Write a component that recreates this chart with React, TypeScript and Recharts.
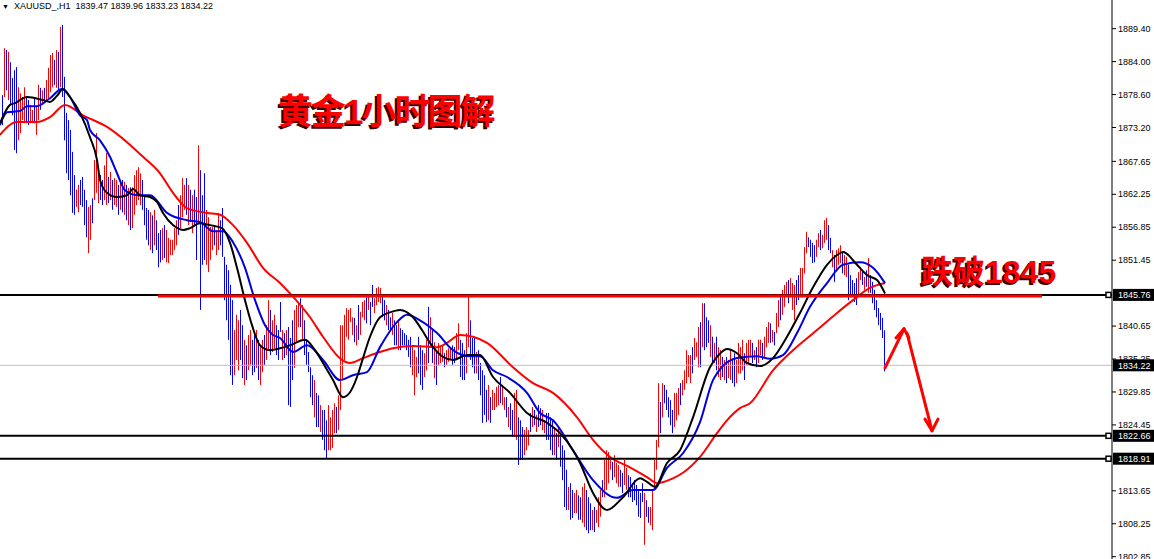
import React from 'react';
import { ComposedChart, Bar, Line, XAxis, YAxis, ReferenceLine } from 'recharts';

// XAUUSD H1 bars: [high, low, up(1)/down(0)]
const barsA = [
  [1878.5, 1873.6, 0], [1886.2, 1878.2, 1], [1885.9, 1879.3, 0], [1885.6, 1877.7, 1], [1883.9, 1876.9, 0],
  [1881.3, 1875.2, 0], [1882.6, 1869.5, 0], [1883.1, 1869.0, 0], [1879.8, 1871.1, 1], [1878.8, 1872.3, 1],
  [1878.2, 1874.4, 1], [1879.8, 1873.9, 1], [1878.2, 1873.9, 0], [1877.7, 1873.6, 0], [1876.9, 1873.9, 1],
  [1876.1, 1873.9, 1], [1878.0, 1873.9, 0], [1876.6, 1872.0, 1], [1880.2, 1874.4, 1], [1879.7, 1876.1, 0],
  [1879.3, 1876.9, 1], [1879.7, 1877.4, 0], [1881.0, 1877.7, 1], [1883.0, 1878.0, 1], [1885.1, 1879.0, 1],
  [1885.4, 1879.8, 1], [1884.3, 1880.2, 0], [1885.9, 1879.7, 1], [1885.6, 1879.3, 0], [1889.7, 1879.8, 1],
  [1890.0, 1878.2, 0], [1881.5, 1871.1, 0], [1875.6, 1865.7, 0], [1874.4, 1864.6, 0], [1872.8, 1862.1, 0],
  [1869.2, 1859.2, 0], [1865.4, 1858.9, 0], [1863.0, 1860.2, 1], [1863.8, 1859.3, 1], [1864.6, 1860.5, 0],
  [1865.1, 1860.2, 0], [1863.0, 1857.2, 0], [1861.3, 1855.2, 0], [1860.2, 1852.6, 1], [1860.5, 1854.8, 1],
  [1861.6, 1857.5, 0], [1867.9, 1861.3, 1], [1872.3, 1862.5, 1], [1866.7, 1860.8, 1], [1865.4, 1861.3, 0],
  [1864.6, 1860.5, 0], [1867.0, 1861.3, 1], [1869.0, 1860.5, 1], [1865.1, 1860.8, 0], [1865.9, 1861.3, 1],
  [1864.6, 1859.7, 0], [1864.9, 1860.5, 1], [1864.6, 1860.2, 1], [1863.8, 1858.9, 0], [1864.1, 1859.7, 1],
  [1864.6, 1859.3, 0], [1864.3, 1858.9, 1], [1863.8, 1858.0, 0], [1863.3, 1857.2, 1], [1863.4, 1856.4, 0],
  [1863.4, 1856.7, 1], [1865.4, 1858.9, 1], [1866.2, 1860.5, 1], [1866.7, 1861.3, 1], [1865.7, 1860.5, 1],
  [1864.6, 1859.7, 0], [1862.1, 1857.2, 0], [1860.0, 1854.8, 0], [1859.7, 1853.9, 0], [1859.3, 1853.1, 1],
  [1858.8, 1852.6, 0], [1859.7, 1853.9, 1], [1858.0, 1853.1, 0], [1855.9, 1850.3, 0], [1856.4, 1851.1, 0],
  [1856.7, 1851.5, 1], [1857.2, 1851.8, 0], [1856.4, 1851.1, 1], [1855.1, 1851.0, 1], [1854.8, 1852.3, 1],
  [1854.8, 1852.3, 1], [1856.7, 1853.1, 1], [1858.0, 1853.9, 1], [1860.5, 1855.6, 0], [1862.1, 1856.7, 1],
  [1864.9, 1858.5, 1], [1863.8, 1859.7, 1], [1864.9, 1858.9, 0], [1863.8, 1857.2, 1], [1863.0, 1857.7, 0],
  [1862.1, 1855.9, 1], [1863.0, 1857.2, 0], [1861.8, 1851.5, 0], [1870.3, 1857.5, 1], [1866.2, 1843.3, 0],
  [1862.1, 1850.7, 0], [1865.7, 1851.5, 0], [1859.7, 1850.7, 1], [1858.5, 1849.5, 1], [1856.9, 1851.5, 1],
  [1856.9, 1853.1, 1], [1857.2, 1853.9, 0], [1856.4, 1852.3, 1], [1859.2, 1853.1, 1], [1858.0, 1853.9, 0],
];

const barsB = [
  [1860.0, 1852.0, 0], [1852.0, 1844.9, 0], [1850.7, 1841.6, 0], [1849.8, 1838.4, 0], [1847.4, 1832.6, 0],
  [1844.9, 1831.0, 0], [1840.0, 1832.6, 1], [1842.5, 1835.1, 1], [1841.6, 1833.4, 1], [1843.3, 1835.1, 0],
  [1840.8, 1832.1, 0], [1838.4, 1831.0, 1], [1837.5, 1831.8, 0], [1839.2, 1833.4, 1], [1840.0, 1834.3, 1],
  [1838.4, 1832.6, 0], [1839.2, 1833.1, 0], [1840.0, 1833.8, 1], [1838.4, 1831.8, 0], [1837.5, 1831.0, 1],
  [1838.4, 1833.1, 1], [1839.2, 1834.3, 0], [1840.8, 1835.1, 1], [1844.9, 1836.7, 1], [1843.3, 1835.9, 0],
  [1841.6, 1836.4, 1], [1842.5, 1837.0, 1], [1840.8, 1835.9, 0], [1840.0, 1835.1, 0], [1844.6, 1839.7, 0],
  [1840.0, 1835.1, 1], [1839.5, 1835.4, 0], [1840.0, 1835.9, 1], [1840.5, 1827.7, 0], [1838.7, 1827.4, 0],
  [1841.6, 1831.8, 0], [1843.3, 1833.8, 1], [1844.1, 1837.9, 1], [1844.4, 1840.5, 1], [1845.2, 1840.5, 0],
  [1844.1, 1838.4, 1], [1841.6, 1835.9, 0], [1838.4, 1834.3, 0], [1836.4, 1833.1, 0], [1833.9, 1829.0, 0],
  [1832.6, 1827.7, 0], [1831.8, 1825.7, 1], [1829.7, 1824.1, 0], [1829.3, 1824.1, 0], [1827.7, 1823.3, 1],
  [1826.9, 1822.0, 0], [1826.9, 1820.3, 0], [1825.2, 1819.0, 0], [1827.7, 1820.3, 1], [1825.7, 1820.3, 1],
  [1826.9, 1820.7, 1], [1828.0, 1823.1, 1], [1827.4, 1823.1, 0], [1829.3, 1823.6, 1], [1840.8, 1826.9, 1],
  [1840.8, 1831.8, 1], [1842.5, 1835.1, 1], [1843.6, 1838.9, 1], [1843.3, 1838.4, 1], [1843.6, 1841.3, 1],
  [1842.1, 1839.2, 1], [1842.0, 1838.0, 0], [1840.8, 1837.5, 1], [1844.1, 1838.4, 0], [1843.0, 1839.2, 1],
  [1844.6, 1842.1, 1], [1844.9, 1841.6, 1], [1845.4, 1841.1, 0], [1845.7, 1843.3, 1], [1844.6, 1840.8, 0],
  [1847.4, 1843.8, 0], [1845.2, 1842.8, 1], [1846.9, 1844.1, 1], [1847.1, 1844.6, 1], [1846.9, 1844.4, 1],
  [1845.4, 1842.1, 0], [1844.9, 1841.6, 0], [1844.1, 1840.8, 1], [1843.3, 1840.0, 0], [1842.1, 1840.0, 0],
  [1842.8, 1839.2, 1], [1841.6, 1837.5, 0], [1840.8, 1837.5, 0], [1841.6, 1836.7, 1], [1840.3, 1836.7, 0],
  [1840.0, 1837.5, 0], [1839.5, 1837.5, 0], [1839.2, 1836.7, 0], [1838.4, 1835.6, 0], [1838.9, 1833.9, 0],
  [1837.5, 1832.6, 1], [1836.7, 1829.3, 1], [1835.6, 1832.3, 1], [1838.9, 1832.9, 0], [1837.5, 1831.0, 0],
  [1836.7, 1830.2, 0], [1836.2, 1832.3, 1], [1838.4, 1833.4, 1], [1843.8, 1834.6, 0], [1842.1, 1837.2, 1],
  [1840.0, 1834.6, 0], [1838.0, 1832.1, 1], [1836.4, 1831.0, 0], [1837.9, 1834.3, 1], [1837.2, 1834.6, 1],
];

const barsC = [
  [1837.5, 1834.8, 1], [1836.2, 1833.9, 0], [1836.7, 1834.3, 1], [1837.0, 1834.8, 1], [1837.2, 1835.1, 1],
  [1837.5, 1834.3, 0], [1837.2, 1834.6, 0], [1839.5, 1835.1, 1], [1841.1, 1836.7, 1], [1838.4, 1832.3, 0],
  [1837.9, 1831.8, 0], [1836.7, 1831.8, 0], [1839.5, 1832.9, 1], [1845.7, 1837.2, 1], [1841.6, 1835.1, 0],
  [1838.7, 1833.9, 0], [1838.9, 1832.9, 0], [1836.4, 1832.9, 1], [1836.7, 1831.8, 0], [1834.6, 1829.3, 0],
  [1833.4, 1824.8, 0], [1832.6, 1826.1, 0], [1830.2, 1824.9, 0], [1831.0, 1825.2, 1], [1829.0, 1824.8, 0],
  [1830.2, 1826.9, 1], [1829.7, 1826.9, 1], [1830.7, 1827.4, 1], [1831.0, 1827.7, 1], [1832.3, 1828.0, 0],
  [1831.0, 1827.7, 1], [1829.0, 1826.9, 1], [1829.0, 1825.7, 0], [1827.4, 1824.1, 1], [1828.0, 1823.6, 0],
  [1826.9, 1822.5, 0], [1829.7, 1822.5, 1], [1830.2, 1822.0, 1], [1825.7, 1817.9, 0], [1825.2, 1818.7, 0],
  [1824.1, 1818.7, 0], [1823.6, 1819.5, 1], [1824.1, 1820.3, 1], [1823.6, 1821.1, 1], [1826.4, 1823.3, 0],
  [1827.4, 1824.1, 1], [1826.9, 1824.4, 0], [1826.1, 1823.3, 1], [1827.7, 1824.1, 0], [1827.2, 1824.4, 0],
  [1826.9, 1823.6, 1], [1825.2, 1823.1, 1], [1826.4, 1822.0, 0], [1826.4, 1822.0, 0], [1825.7, 1820.3, 0],
  [1825.2, 1819.5, 0], [1824.1, 1819.5, 1], [1823.1, 1818.7, 0], [1824.1, 1820.8, 1], [1822.5, 1817.6, 0],
  [1821.1, 1815.4, 0], [1820.3, 1811.0, 0], [1817.1, 1810.5, 0], [1814.3, 1810.5, 1], [1814.9, 1808.9, 0],
  [1813.8, 1809.2, 0], [1813.3, 1810.0, 1], [1813.8, 1810.0, 1], [1812.9, 1808.9, 0], [1812.6, 1808.9, 0],
  [1814.3, 1808.4, 1], [1814.9, 1807.7, 1], [1813.8, 1807.2, 0], [1812.6, 1806.7, 0], [1811.6, 1807.2, 0],
  [1810.5, 1807.2, 1], [1811.0, 1806.9, 0], [1810.5, 1808.4, 1], [1812.6, 1807.7, 1], [1813.8, 1809.4, 1],
  [1815.4, 1812.6, 0], [1818.7, 1812.6, 1], [1820.3, 1813.8, 1], [1820.0, 1814.9, 1], [1818.7, 1817.1, 1],
  [1818.4, 1815.4, 0], [1819.5, 1815.9, 1], [1818.2, 1814.9, 1], [1817.9, 1814.3, 1], [1817.1, 1814.3, 0],
  [1816.6, 1813.3, 0], [1818.7, 1814.6, 1], [1817.4, 1813.8, 1], [1816.2, 1812.6, 0], [1815.9, 1812.6, 0],
  [1814.9, 1811.8, 0], [1815.4, 1812.1, 0], [1814.6, 1811.3, 0], [1813.8, 1809.4, 0], [1813.3, 1809.2, 0],
  [1814.9, 1811.8, 0], [1813.3, 1804.8, 1], [1812.1, 1809.4, 0], [1811.0, 1808.4, 0], [1811.0, 1808.0, 1],
  [1813.8, 1807.2, 1], [1818.7, 1813.8, 1], [1822.0, 1817.1, 1], [1831.3, 1820.8, 1], [1828.2, 1823.1, 0],
];

const barsD = [
  [1831.3, 1825.7, 1], [1831.0, 1828.0, 0], [1830.2, 1826.9, 0], [1829.0, 1825.7, 0], [1828.5, 1824.4, 0],
  [1826.9, 1823.1, 0], [1829.7, 1824.1, 1], [1829.7, 1825.2, 1], [1830.5, 1826.1, 1], [1831.3, 1827.7, 0],
  [1831.8, 1829.3, 1], [1833.4, 1830.2, 1], [1836.7, 1831.3, 1], [1835.9, 1832.3, 1], [1835.9, 1831.3, 1],
  [1837.2, 1832.9, 0], [1838.7, 1835.1, 1], [1838.0, 1835.6, 1], [1840.5, 1833.9, 1], [1841.3, 1833.9, 0],
  [1844.4, 1837.2, 1], [1844.4, 1836.7, 0], [1842.1, 1837.2, 0], [1841.6, 1837.9, 0], [1840.8, 1835.6, 1],
  [1838.9, 1834.6, 0], [1837.9, 1834.6, 1], [1838.9, 1833.4, 0], [1837.2, 1832.3, 1], [1836.7, 1831.8, 1],
  [1835.6, 1832.3, 0], [1835.1, 1831.8, 1], [1835.6, 1831.3, 0], [1835.1, 1832.1, 1], [1836.7, 1831.8, 1],
  [1835.1, 1831.3, 0], [1836.2, 1830.7, 0], [1835.1, 1831.3, 1], [1837.9, 1832.9, 1], [1837.2, 1832.9, 1],
  [1838.4, 1833.4, 1], [1836.2, 1831.8, 0], [1837.9, 1834.3, 1], [1838.4, 1834.6, 1], [1838.4, 1835.6, 1],
  [1837.9, 1834.6, 0], [1836.7, 1835.1, 1], [1837.2, 1833.9, 0], [1838.4, 1834.6, 1], [1838.4, 1835.9, 1],
  [1837.9, 1835.1, 0], [1838.9, 1835.6, 1], [1840.5, 1837.2, 1], [1841.3, 1837.9, 1], [1841.1, 1837.9, 0],
  [1840.0, 1838.0, 1], [1839.7, 1837.5, 0], [1842.8, 1839.5, 1], [1844.9, 1840.5, 1], [1845.4, 1841.6, 0],
  [1846.6, 1842.5, 1], [1847.4, 1843.8, 1], [1847.9, 1845.4, 1], [1848.2, 1844.4, 0], [1848.5, 1845.4, 1],
  [1847.7, 1843.3, 1], [1847.4, 1841.6, 1], [1848.2, 1844.1, 0], [1849.0, 1844.9, 0], [1850.2, 1845.4, 1],
  [1850.2, 1845.4, 1], [1853.6, 1849.3, 1], [1856.1, 1852.6, 1], [1855.2, 1853.6, 0], [1854.8, 1852.0, 0],
  [1854.3, 1851.0, 0], [1853.9, 1851.1, 0], [1854.8, 1852.0, 1], [1855.9, 1853.6, 1], [1856.4, 1853.1, 0],
  [1855.6, 1853.4, 1], [1858.0, 1854.3, 1], [1858.4, 1854.8, 1], [1857.2, 1853.1, 0], [1855.1, 1852.6, 0],
  [1853.1, 1850.3, 1], [1852.3, 1847.9, 0], [1853.1, 1849.8, 1], [1853.4, 1850.7, 1], [1853.9, 1851.0, 1],
  [1852.8, 1849.3, 0], [1852.3, 1849.0, 1], [1852.0, 1848.7, 1], [1850.7, 1844.9, 0], [1849.0, 1845.4, 0],
  [1848.2, 1845.4, 0], [1847.7, 1844.6, 0], [1848.5, 1844.1, 0], [1849.5, 1845.7, 1], [1850.3, 1848.2, 1],
  [1849.8, 1847.4, 0], [1848.7, 1846.6, 1], [1849.8, 1847.1, 0], [1851.8, 1846.1, 1], [1849.0, 1846.1, 0],
  [1847.9, 1844.4, 0], [1846.6, 1843.3, 0], [1844.9, 1842.1, 0], [1843.6, 1840.8, 0], [1842.8, 1840.0, 0],
  [1842.0, 1838.7, 0], [1839.96, 1833.23, 0],
];

// moving averages: [bar index, price]
const maBlack = [
  [-1.5, 1873.9], [3.5, 1876.9], [6, 1877.2], [12, 1878.2], [20, 1877.7], [23.5, 1877.4], [27, 1878.4],
  [30, 1879.5], [33.5, 1878.2], [38.5, 1875.6], [43.5, 1871.6], [47, 1867.9], [48.5, 1864.6], [52, 1862.5],
  [57, 1861.8], [62, 1862.1], [65, 1863.1], [68.5, 1862.1], [73.5, 1861.8], [77, 1861.0], [80, 1859.2],
  [85, 1857.2], [90, 1856.4], [93.5, 1856.7], [98.5, 1857.5], [103.5, 1857.2], [109.5, 1856.7],
  [113.5, 1854.3], [117, 1850.2], [121, 1844.9], [124.5, 1840.8], [128.5, 1837.5], [133.5, 1836.7],
  [138.5, 1837.0], [143.5, 1837.5], [151, 1838.4], [156, 1836.7], [160, 1834.6], [165, 1831.8],
  [170, 1829.0], [173.5, 1829.8], [177, 1832.3], [180, 1835.4], [183.5, 1838.9], [188.5, 1842.1],
  [193.5, 1842.9], [198.5, 1843.3], [205, 1842.1], [209.5, 1840.0], [213.5, 1837.9], [220, 1835.6],
  [225, 1835.1], [232, 1835.9], [238.5, 1835.9], [245, 1832.3], [253.5, 1829.7], [262, 1826.4],
  [272, 1824.8], [278.5, 1823.1], [285, 1820.3], [288.5, 1818.2], [295, 1813.3], [302, 1810.5],
  [310, 1812.6], [318.5, 1815.7], [322, 1815.1], [326, 1814.3], [332, 1818.2], [338.5, 1820.3],
  [345, 1825.7], [353.5, 1833.9], [357, 1835.6], [362, 1836.9], [367, 1836.2], [372, 1834.6],
  [378.5, 1834.1], [385, 1835.4], [392, 1838.9], [398.5, 1842.8], [405, 1847.0], [412, 1850.7],
  [417, 1852.3], [420, 1852.8], [427, 1850.7], [432, 1849.0], [437, 1848.2], [441, 1846.0],
];

const maBlue = [
  [-1.5, 1873.6], [2, 1875.7], [8.5, 1875.9], [12, 1876.7], [17, 1876.7], [23.5, 1878.0], [29.5, 1879.5],
  [33.5, 1878.2], [38.5, 1875.2], [42, 1874.4], [43.5, 1872.8], [48.5, 1871.1], [53.5, 1868.4],
  [57, 1865.7], [61, 1862.9], [67, 1862.1], [73.5, 1862.1], [82, 1859.2], [92, 1858.0], [98.5, 1857.7],
  [105, 1856.2], [110, 1856.2], [115, 1854.4], [121, 1850.2], [126, 1844.9], [131, 1840.8], [135, 1839.2],
  [138.5, 1838.7], [145, 1836.4], [152, 1837.5], [160, 1835.1], [168.5, 1831.8], [175, 1832.6],
  [182, 1833.1], [188.5, 1837.2], [197, 1841.3], [202, 1842.5], [208.5, 1841.6], [217, 1839.5],
  [225, 1836.7], [233.5, 1835.7], [238.5, 1835.7], [245, 1833.4], [252, 1832.3], [262, 1829.7],
  [268.5, 1826.4], [275, 1825.2], [285, 1820.3], [295, 1815.4], [307, 1812.5], [315, 1813.8],
  [325, 1813.8], [332, 1817.4], [340, 1819.8], [348.5, 1824.9], [355, 1831.8], [357, 1832.9],
  [367, 1835.4], [377, 1835.7], [383.5, 1835.3], [390, 1835.9], [397, 1839.5], [403.5, 1843.8],
  [412, 1847.7], [420, 1850.7], [428.5, 1851.1], [435, 1850.2], [441, 1847.7],
];

const maRed = [
  [-1.5, 1872.0], [7, 1874.1], [17, 1874.1], [23.5, 1874.9], [31, 1876.9], [40, 1875.2], [52, 1873.3],
  [62, 1870.8], [70, 1868.4], [78.5, 1865.7], [85, 1862.5], [92, 1860.0], [102, 1859.2], [108.5, 1858.9],
  [115, 1857.2], [122, 1854.3], [130, 1850.2], [138.5, 1847.7], [143.5, 1846.0], [153.5, 1842.1],
  [160, 1838.9], [169.5, 1835.1], [173.5, 1834.6], [180, 1835.4], [188.5, 1836.4], [195, 1837.0],
  [205, 1837.4], [217, 1837.2], [222, 1837.9], [228.5, 1839.2], [235, 1838.9], [242, 1837.9],
  [255, 1833.9], [265, 1831.3], [275, 1829.7], [287, 1825.7], [295, 1822.0], [303.5, 1819.2],
  [313.5, 1817.5], [322, 1815.9], [327, 1814.9], [335, 1815.7], [340, 1816.6], [348.5, 1819.2],
  [357, 1823.1], [362, 1825.2], [368.5, 1827.2], [373.5, 1828.0], [385, 1833.4], [395, 1836.7],
  [407, 1840.0], [417, 1842.8], [425, 1844.9], [433.5, 1846.9], [441, 1847.7],
];

const priceTicks = [
  1889.4, 1884.0, 1878.6, 1873.2, 1867.65, 1862.25, 1856.85, 1851.45,
  1840.65, 1835.25, 1829.85, 1824.45, 1813.65, 1808.25, 1802.85,
];

const levelPrices = [1845.76, 1822.66, 1818.91];
const bidPrice = 1834.22;
const breakPrice = 1845.6;
const breakFrom = 77.5;
const breakTo = 519.5;

// hand-drawn arrow (bar index, price)
const arrowUp = [[441, 1833.8], [450.5, 1840.2]];
const arrowDown = [[452, 1839.5], [464.5, 1823.5]];
const headUp = [[446.5, 1838.7], [450.5, 1840.2], [453, 1838.7]];
const headDown = [[461, 1825.4], [464.5, 1823.5], [467.5, 1825.4]];

const bars = [...barsA, ...barsB, ...barsC, ...barsD].map(([hi, lo, up], i) => ({
  x: i,
  range: [lo, hi],
  up,
}));
const toPts = (arr: number[][]) => arr.map(([x, v]) => ({ x, v }));

const AXIS_FONT = "'Liberation Sans', Arial, sans-serif";

const HiLoBar = (props: any) => {
  const { x, y, width, height, payload } = props;
  if (x == null || y == null) return null;
  const top = Math.min(y, y + height);
  const h = Math.max(1, Math.abs(height));
  return (
    <rect
      x={Math.round(x + width / 2 - 0.5)}
      y={top}
      width={1}
      height={h}
      fill={payload.up ? '#ff0000' : '#0000ff'}
    />
  );
};

const PriceTag = ({ viewBox, price, marker }: any) => {
  if (!viewBox) return null;
  const right = viewBox.x + viewBox.width;
  const cy = viewBox.y;
  return (
    <g>
      {marker && (
        <rect x={right - 6} y={cy - 2.5} width={5} height={5} fill="#fff" stroke="#000" strokeWidth={1.5} />
      )}
      <rect x={right + 1} y={cy - 6} width={41} height={12} fill="#000" />
      <text x={right + 6} y={cy + 3.5} fill="#fff" fontSize={9} fontFamily={AXIS_FONT}>
        {price.toFixed(2)}
      </text>
    </g>
  );
};

const seg = (pts: number[][]) => pts.map(([x, y]) => ({ x, y }));

export default function App() {
  return (
    <div style={{ position: 'absolute', left: 0, top: 0, width: 1154, height: 559, background: '#fff' }}>
      <style>{'body{margin:0}'}</style>
      <ComposedChart
        width={1154}
        height={559}
        data={bars}
        margin={{ top: 0, right: 0, bottom: 0, left: 0 }}
      >
        <XAxis dataKey="x" type="number" domain={[-1.5, 554.5]} hide allowDataOverflow />
        <YAxis
          orientation="right"
          width={42}
          type="number"
          domain={[1802.47, 1894.1]}
          allowDataOverflow
          ticks={priceTicks}
          interval={0}
          tickFormatter={(v: number) => v.toFixed(2)}
          tick={{ fontSize: 9, fill: '#000', fontFamily: AXIS_FONT, textAnchor: 'start' }}
          tickSize={4}
          tickMargin={2}
          axisLine={{ stroke: '#000', strokeWidth: 1 }}
          tickLine={{ stroke: '#000' }}
        />
        <ReferenceLine y={bidPrice} stroke="#c0c0c0" strokeWidth={1} />
        <Bar dataKey="range" barSize={1} shape={<HiLoBar />} isAnimationActive={false} />
        <Line data={toPts(maRed)} dataKey="v" type="monotone" stroke="#ff0000" strokeWidth={2} dot={false} isAnimationActive={false} />
        <Line data={toPts(maBlue)} dataKey="v" type="monotone" stroke="#0000dd" strokeWidth={2} dot={false} isAnimationActive={false} />
        <Line data={toPts(maBlack)} dataKey="v" type="monotone" stroke="#000000" strokeWidth={2} dot={false} isAnimationActive={false} />
        {levelPrices.map((p) => (
          <ReferenceLine
            key={p}
            y={p}
            stroke="#000"
            strokeWidth={2}
            label={(lp: any) => <PriceTag {...lp} price={p} marker />}
          />
        ))}
        <ReferenceLine
          y={bidPrice}
          stroke="none"
          label={(lp: any) => <PriceTag {...lp} price={bidPrice} />}
        />
        <ReferenceLine
          segment={seg([[breakFrom, breakPrice], [breakTo, breakPrice]])}
          stroke="#ff0000"
          strokeWidth={3}
        />
        <ReferenceLine segment={seg(arrowUp)} stroke="#ff0000" strokeWidth={3} strokeLinecap="round" />
        <ReferenceLine segment={seg(arrowDown)} stroke="#ff0000" strokeWidth={3} strokeLinecap="round" />
        <ReferenceLine segment={seg([headUp[0], headUp[1]])} stroke="#ff0000" strokeWidth={3} strokeLinecap="round" />
        <ReferenceLine segment={seg([headUp[1], headUp[2]])} stroke="#ff0000" strokeWidth={3} strokeLinecap="round" />
        <ReferenceLine segment={seg([headDown[0], headDown[1]])} stroke="#ff0000" strokeWidth={3} strokeLinecap="round" />
        <ReferenceLine segment={seg([headDown[1], headDown[2]])} stroke="#ff0000" strokeWidth={3} strokeLinecap="round" />
      </ComposedChart>

      <div
        style={{
          position: 'absolute',
          left: 2,
          top: 0,
          fontFamily: AXIS_FONT,
          fontSize: 9,
          lineHeight: '12px',
          whiteSpace: 'pre',
          color: '#000',
        }}
      >
        <span style={{ fontSize: 7 }}>▼</span>
        {'  XAUUSD_,H1  1839.47 1839.96 1833.23 1834.22'}
      </div>
      <div
        style={{
          position: 'absolute',
          left: 278,
          top: 93,
          fontFamily: "'Liberation Sans', 'Noto Sans CJK SC', sans-serif",
          fontWeight: 700,
          fontSize: 35,
          lineHeight: '38px',
          letterSpacing: -2,
          color: '#ff0000',
          whiteSpace: 'nowrap',
          textShadow: '-2px 2px 0 #3a0000',
        }}
      >
        黄金1小时图解
      </div>
      <div
        style={{
          position: 'absolute',
          left: 921,
          top: 255,
          fontFamily: "'Liberation Sans', 'Noto Sans CJK SC', sans-serif",
          fontWeight: 700,
          fontSize: 32,
          lineHeight: '34px',
          color: '#ff0000',
          whiteSpace: 'nowrap',
          textShadow: '-2px 2px 0 #3a0000',
        }}
      >
        跌破1845
      </div>
    </div>
  );
}
